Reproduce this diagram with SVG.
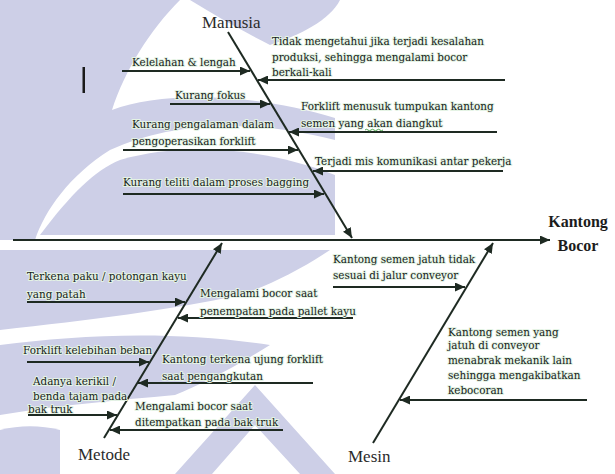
<svg xmlns="http://www.w3.org/2000/svg" width="615" height="474" viewBox="0 0 615 474">
<style>
.wm{fill:#cdcfe7}
.t{font-family:"DejaVu Serif","Liberation Serif",serif;font-size:10.4px;fill:#16221a;stroke:#e4f3e4;stroke-width:2;paint-order:stroke;stroke-linejoin:round}
.lbl{font-family:"Liberation Serif","DejaVu Serif",serif;font-size:17px;fill:#2b2b2b}
.head{font-family:"Liberation Serif","DejaVu Serif",serif;font-size:16px;font-weight:bold;fill:#1c1c1c;text-anchor:middle}
.ln{stroke:#1e2a22;stroke-width:2;fill:none}
.bone{stroke:#1e2a22;stroke-width:2;fill:none}
</style>
<defs>
<marker id="ah" markerUnits="userSpaceOnUse" markerWidth="10" markerHeight="9" refX="10" refY="4.5" orient="auto">
<path d="M0,0 L10,4.5 L0,9 Z" fill="#1e2a22"/>
</marker>
</defs>
<rect width="615" height="474" fill="#ffffff"/>
<g id="watermark">
<path class="wm" d="M0,0 H180 C150,30 125,70 112,110 C160,92 250,92 335,118 L335,140 C250,118 170,122 110,150 C70,175 45,210 35,240 L0,240 Z"/>
<path class="wm" d="M190,0 H340 C330,20 300,35 270,45 C240,30 215,15 190,0 Z"/>
<path class="wm" d="M120,160 C190,140 270,150 335,175 L335,235 L40,235 C70,195 95,170 120,160 Z"/>
<path class="wm" d="M0,250 H330 C300,270 270,285 240,295 C170,310 90,320 0,330 Z"/>
<path class="wm" d="M0,345 C80,335 170,330 270,345 C230,370 200,385 175,395 C120,400 60,405 0,415 Z"/>
<path class="wm" d="M0,430 C20,425 40,425 60,430 L60,474 L0,474 Z"/>
<path class="wm" d="M175,474 L255,385 L335,474 L300,474 L255,425 L212,474 Z"/>
</g>
<rect x="82.5" y="67" width="2.5" height="26" fill="#1a1a1a"/>
<g id="connectors">
<line class="bone" x1="13" y1="240" x2="550" y2="240" stroke-width="2.5" marker-end="url(#ah)"/>
<line class="bone" x1="228" y1="32" x2="352" y2="238" marker-end="url(#ah)"/>
<line class="bone" x1="104" y1="438" x2="222" y2="243" marker-end="url(#ah)"/>
<line class="bone" x1="373" y1="443" x2="493" y2="243" marker-end="url(#ah)"/>
<line class="ln" x1="122" y1="71" x2="250" y2="71" marker-end="url(#ah)"/>
<line class="ln" x1="505" y1="80" x2="258" y2="80" marker-end="url(#ah)"/>
<line class="ln" x1="170" y1="104" x2="270" y2="104" marker-end="url(#ah)"/>
<line class="ln" x1="497" y1="132" x2="289" y2="132" marker-end="url(#ah)"/>
<line class="ln" x1="123" y1="150" x2="298" y2="150" marker-end="url(#ah)"/>
<line class="ln" x1="503" y1="171" x2="313" y2="171" marker-end="url(#ah)"/>
<line class="ln" x1="123" y1="194" x2="324" y2="194" marker-end="url(#ah)"/>
<line class="ln" x1="27" y1="302" x2="185" y2="302" marker-end="url(#ah)"/>
<line class="ln" x1="353" y1="318" x2="178" y2="318" marker-end="url(#ah)"/>
<line class="ln" x1="27" y1="362" x2="149" y2="362" marker-end="url(#ah)"/>
<line class="ln" x1="313" y1="383" x2="138" y2="383" marker-end="url(#ah)"/>
<line class="ln" x1="28" y1="415" x2="117" y2="415" marker-end="url(#ah)"/>
<line class="ln" x1="283" y1="430" x2="110" y2="430" marker-end="url(#ah)"/>
<line class="ln" x1="333" y1="287" x2="465" y2="287" marker-end="url(#ah)"/>
<line class="ln" x1="587" y1="400" x2="400" y2="400" marker-end="url(#ah)"/>
</g>
<g id="effect">
<text class="head" x="578" y="227">Kantong</text>
<text class="head" x="578" y="251">Bocor</text>
</g>
<g id="manusia">
<text class="lbl" x="202" y="28">Manusia</text>
<text class="t" x="132" y="66">Kelelahan &amp; lengah</text>
<text class="t" x="175" y="99">Kurang fokus</text>
<text class="t" x="132" y="128">Kurang pengalaman dalam</text>
<text class="t" x="132" y="145">pengoperasikan forklift</text>
<text class="t" x="123" y="186">Kurang teliti dalam proses bagging</text>
<text class="t" x="272" y="45">Tidak mengetahui jika terjadi kesalahan</text>
<text class="t" x="272" y="61">produksi, sehingga mengalami bocor</text>
<text class="t" x="272" y="76">berkali-kali</text>
<text class="t" x="301" y="110">Forklift menusuk tumpukan kantong</text>
<text class="t" x="301" y="127">semen yang akan diangkut</text>
<path d="M365,130 q1.5,-1.5 3,0 t3,0 t3,0 t3,0 t3,0 t3,0" stroke="#3a9a3a" stroke-width="0.9" fill="none"/>
<text class="t" x="315" y="165">Terjadi mis komunikasi antar pekerja</text>
</g>
<g id="metode">
<text class="lbl" x="78" y="460">Metode</text>
<text class="t" x="27" y="280">Terkena paku / potongan kayu</text>
<text class="t" x="27" y="298">yang patah</text>
<text class="t" x="200" y="297">Mengalami bocor saat</text>
<text class="t" x="200" y="315">penempatan pada pallet kayu</text>
<text class="t" x="23" y="354">Forklift kelebihan beban</text>
<text class="t" x="162" y="363">Kantong terkena ujung forklift</text>
<text class="t" x="162" y="380">saat pengangkutan</text>
<text class="t" x="33" y="385">Adanya kerikil /</text>
<text class="t" x="33" y="400">benda tajam pada</text>
<text class="t" x="28" y="413">bak truk</text>
<text class="t" x="135" y="410">Mengalami bocor saat</text>
<text class="t" x="135" y="426">ditempatkan pada bak truk</text>
</g>
<g id="mesin">
<text class="lbl" x="348" y="462">Mesin</text>
<text class="t" x="333" y="263">Kantong semen jatuh tidak</text>
<text class="t" x="333" y="279">sesuai di jalur conveyor</text>
<text class="t" x="448" y="336">Kantong semen yang</text>
<text class="t" x="448" y="349">jatuh di conveyor</text>
<text class="t" x="448" y="364">menabrak mekanik lain</text>
<text class="t" x="448" y="379">sehingga mengakibatkan</text>
<text class="t" x="448" y="394">kebocoran</text>
</g>
</svg>
